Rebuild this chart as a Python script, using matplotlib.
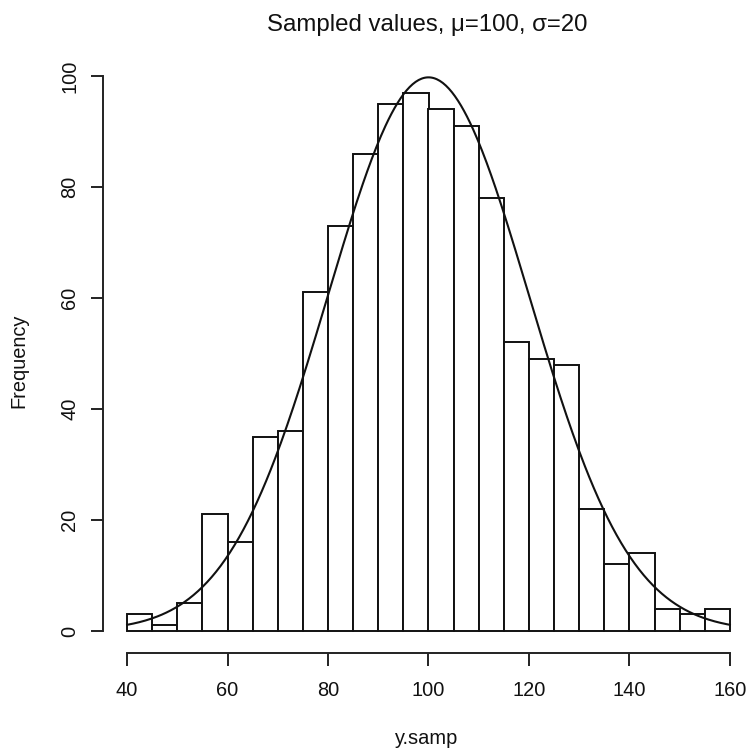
import numpy as np
import matplotlib
matplotlib.use("Agg")
import matplotlib.pyplot as plt

plt.rcParams['font.family'] = ['Liberation Sans', 'DejaVu Sans']

# histogram of y.samp, bin width 5
bin_edges = [40, 45, 50, 55, 60, 65, 70, 75, 80, 85, 90, 95, 100,
             105, 110, 115, 120, 125, 130, 135, 140, 145, 150, 155, 160]
counts = [3, 1, 5, 21, 16, 35, 36, 61, 73, 86, 95, 97,
          94, 91, 78, 52, 49, 48, 22, 12, 14, 4, 3, 4]
mu, sigma, n_samp = 100, 20, 1000

W, H = 750, 753
fig = plt.figure(figsize=(W / 100, H / 100), dpi=100)
# plot region in pixels (R style, 4% padding around data range)
ax = fig.add_axes([103 / W, (H - 652.5) / H, (754 - 103) / W, (652.5 - 71) / H])

lefts = bin_edges[:-1]
ax.bar(lefts, counts, width=5, align='edge', facecolor='white',
       edgecolor='#111111', linewidth=1.4)

# expected counts from normal density
xs = np.linspace(bin_edges[0], bin_edges[-1], 400)
dens = np.exp(-0.5 * ((xs - mu) / sigma) ** 2) / (sigma * np.sqrt(2 * np.pi))
ax.plot(xs, dens * n_samp * 5, color='#111111', linewidth=1.5)

ax.set_xlim(35.2, 164.8)
ax.set_ylim(-3.88, 100.88)

for s in ['top', 'right']:
    ax.spines[s].set_visible(False)
ax.spines['left'].set_bounds(0, 100)
ax.spines['bottom'].set_bounds(40, 160)
for s in ['left', 'bottom']:
    ax.spines[s].set_linewidth(1.4)
    ax.spines[s].set_color('#222222')

ax.set_xticks(range(40, 161, 20))
ax.set_yticks(range(0, 101, 20))
ax.tick_params(axis='both', direction='out', length=9, width=1.4,
               color='#222222', labelsize=14.4, labelcolor='#111111')
ax.tick_params(axis='x', pad=22.5)
ax.tick_params(axis='y', pad=11)
for lab in ax.get_xticklabels():
    lab.set_va('baseline')
for lab in ax.get_yticklabels():
    lab.set_rotation(90)
    lab.set_rotation_mode('anchor')
    lab.set_ha('center')
    lab.set_va('baseline')

fig.text(24.5 / W, 1 - 361 / H, 'Frequency', rotation=90, rotation_mode='anchor',
         ha='center', va='baseline', fontsize=14.4, color='#111111')
fig.text(427 / W, 1 - 744 / H, 'y.samp', ha='center', va='baseline',
         fontsize=14.4, color='#111111')
fig.text(427 / W, 1 - 31 / H, 'Sampled values, \u03bc=100, \u03c3=20',
         ha='center', va='baseline', fontsize=17.3, color='#111111')

fig.savefig('out.png', dpi=100)
